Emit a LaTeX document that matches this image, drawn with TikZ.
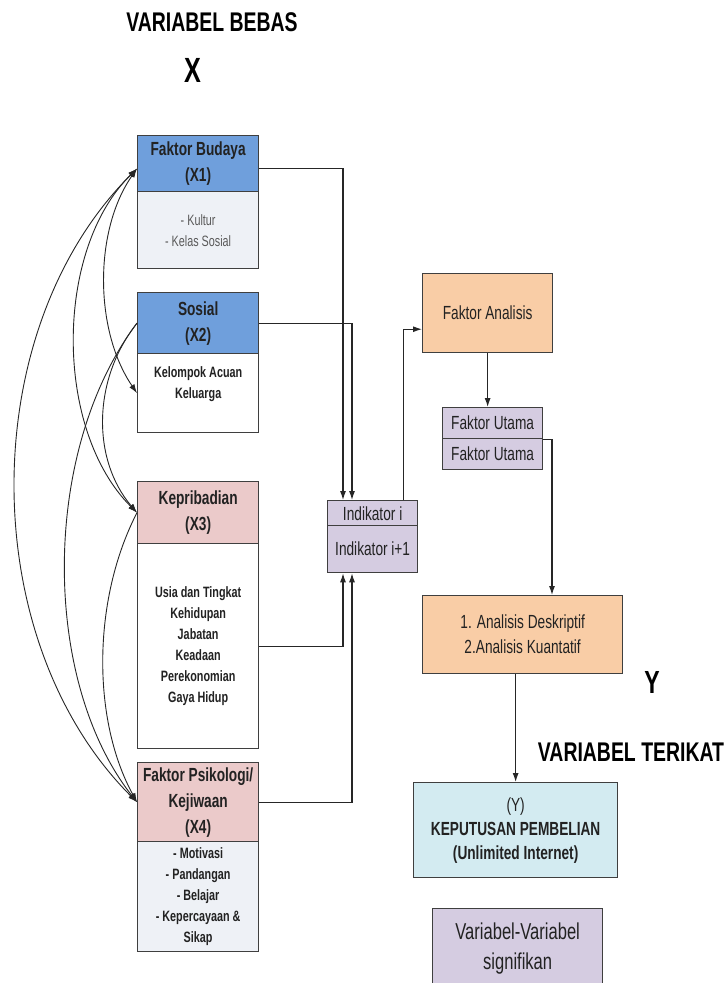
\documentclass[tikz,border=0pt]{standalone}
\usepackage{fontspec}
\setmainfont{Liberation Sans}[FakeStretch=0.72]
\usetikzlibrary{calc, arrows.meta, positioning}

\definecolor{hdrblue}{HTML}{6F9FDC}
\definecolor{hdrpink}{HTML}{EBCACA}
\definecolor{bodygray}{HTML}{EEF1F6}
\definecolor{lilac}{HTML}{D5CCE1}
\definecolor{peach}{HTML}{F9CDA6}
\definecolor{paleblue}{HTML}{D3EBF1}
\definecolor{edgegray}{HTML}{3F3F3F}
\definecolor{inkgray}{HTML}{222222}

\newcommand{\boxfont}{\fontsize{19}{26}\selectfont}
\newcommand{\smallboxfont}{\fontsize{15}{21}\selectfont}
\newcommand{\titlefont}{\fontsize{27}{32}\selectfont\bfseries}

\begin{document}
\begin{tikzpicture}[x=1pt, y=-1pt, >={Latex[length=9pt,width=6pt]},
    box/.style={draw=edgegray, line width=1.3pt, inner sep=0pt, anchor=north west,
                align=center, text=inkgray, font=\boxfont},
    link/.style={->, line width=1.1pt, draw=black!85},
    arc/.style={line width=0.9pt, draw=black!85}]
    \useasboundingbox (0,0) rectangle (728,983);

    \node[font=\titlefont] (bebas) at (212,22) {VARIABEL BEBAS};
    \node[font=\fontsize{35}{40}\selectfont\bfseries] (xlabel) at (193,70) {X};
    \node[font=\fontsize{32}{36}\selectfont\bfseries] (ylabel) at (652,682) {Y};
    \node[font=\titlefont] (terikat) at (631,752) {VARIABEL TERIKAT};

    \node[box, fill=hdrblue, minimum width=121pt, minimum height=56pt, font=\boxfont\bfseries] (x1h) at (137,135) {Faktor Budaya\\(X1)};
    \node[box, fill=bodygray, minimum width=121pt, minimum height=77pt, font=\smallboxfont, text=black!65] (x1b) at (137,191) {- Kultur\\- Kelas Sosial};

    \node[box, fill=hdrblue, minimum width=121pt, minimum height=61pt, font=\boxfont\bfseries] (x2h) at (137,292) {Sosial\\(X2)};
    \node[box, fill=white, minimum width=121pt, minimum height=79pt, font=\smallboxfont\bfseries] (x2b) at (137,353) {Kelompok Acuan\\Keluarga\\~};

    \node[box, fill=hdrpink, minimum width=121pt, minimum height=62pt, font=\boxfont\bfseries] (x3h) at (137,481) {Kepribadian\\(X3)};
    \node[box, fill=white, minimum width=121pt, minimum height=205pt, font=\smallboxfont\bfseries] (x3b) at (137,543) {Usia dan Tingkat\\Kehidupan\\Jabatan\\Keadaan\\Perekonomian\\Gaya Hidup};

    \node[box, fill=hdrpink, minimum width=121pt, minimum height=79pt, font=\boxfont\bfseries] (x4h) at (137,762) {Faktor Psikologi/\\Kejiwaan\\(X4)};
    \node[box, fill=bodygray, minimum width=121pt, minimum height=110pt, font=\smallboxfont\bfseries] (x4b) at (137,841) {- Motivasi\\- Pandangan\\- Belajar\\- Kepercayaan \&\\Sikap};

    \node[box, fill=lilac, minimum width=90pt, minimum height=25pt, text depth=-2pt] (inda) at (327,500) {Indikator i};
    \node[box, fill=lilac, minimum width=90pt, minimum height=47pt] (indb) at (327,525) {Indikator i+1};

    \node[box, fill=peach, minimum width=130pt, minimum height=79pt] (fa) at (422,273) {Faktor Analisis};
    \node[box, fill=lilac, minimum width=100pt, minimum height=31pt] (fua) at (442,407) {Faktor Utama};
    \node[box, fill=lilac, minimum width=100pt, minimum height=31pt] (fub) at (442,438) {Faktor Utama};

    \node[box, fill=peach, minimum width=200pt, minimum height=78pt, font=\fontsize{19}{25}\selectfont] (ana) at (422,595) {1. Analisis Deskriptif\\2.Analisis Kuantatif};
    \node[box, fill=paleblue, minimum width=204pt, minimum height=95pt, font=\fontsize{19}{24}\selectfont\bfseries] (kep) at (413,782) {{\mdseries (Y)}\\KEPUTUSAN PEMBELIAN\\(Unlimited Internet)};
    \node[box, fill=lilac, minimum width=170pt, minimum height=80pt, font=\fontsize{23}{30}\selectfont] (var) at (432,908) {Variabel-Variabel\\signifikan};

    \draw[link] ($(x1h.east)+(0,5)$) -| ($(inda.north west)+(16,0)$);
    \draw[link] (x2h.east) -| ($(inda.north west)+(25,0)$);
    \draw[link] (x3b.east) -| ($(indb.south west)+(16,0)$);
    \draw[link] (x4h.east) -| ($(indb.south west)+(25,0)$);
    \draw[link] ($(inda.north east)+(-15,0)$) |- ($(fa.south west)!0.3!(fa.north west)$);
    \draw[link] (fa.south) -- (fa.south |- fua.north);
    \draw[link] (fua.south east) -| ($(ana.north west)+(130,0)$);
    \draw[link] (ana.south -| kep.north) -- (kep.north);

    \draw[arc, <->] ($(x1h.west)+(0,5)$) .. controls (-25,330) and (-25,640) .. (x4h.west);
    \draw[arc, <->] ($(x1h.west)+(0,5)$) .. controls (54,250) and (54,430) .. (x3h.west);
    \draw[arc, <->] ($(x1h.west)+(0,5)$) .. controls (94,230) and (94,330) .. (x2b.west);
    \draw[arc, ->] (x2h.west) .. controls (41,450) and (41,680) .. (x4h.west);
    \draw[arc, ->] (x2h.west) .. controls (92,380) and (92,460) .. (x3h.west);
    \draw[arc, ->] (x3h.west) .. controls (92,600) and (92,720) .. (x4h.west);
\end{tikzpicture}
\end{document}
